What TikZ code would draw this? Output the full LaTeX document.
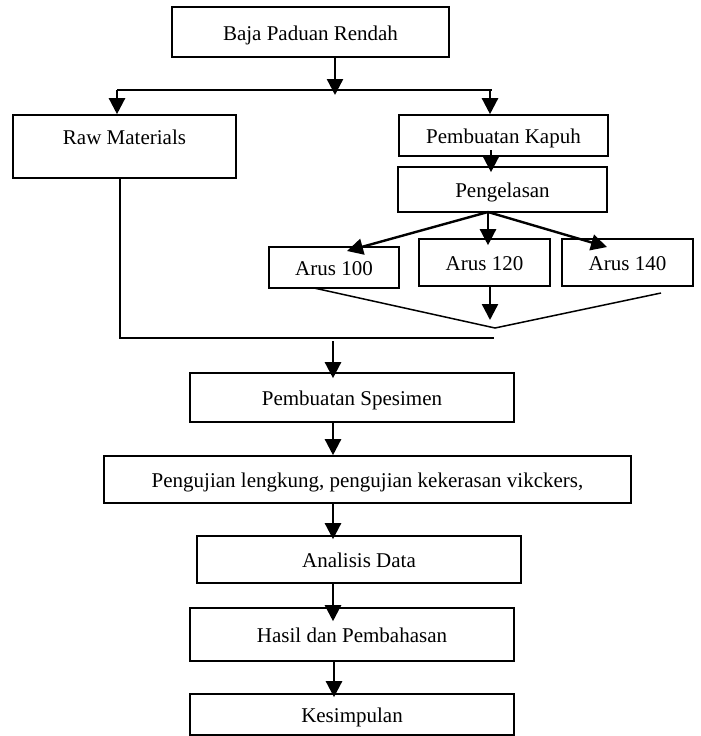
\documentclass[tikz,border=0pt]{standalone}
\usepackage{fontspec}
\setmainfont{Liberation Serif}
\usetikzlibrary{arrows.meta}
\begin{document}
\begin{tikzpicture}[x=1pt,y=-1pt,
  box/.style={draw, line width=1.6pt, rectangle, inner sep=0pt,
    font=\fontsize{21}{25}\selectfont, text height=18pt, text depth=2pt},
  arr/.style={line width=2.4pt, -{Triangle[width=16pt,length=16pt]}},
  thin/.style={line width=1.5pt}]
\useasboundingbox (0,0) rectangle (701,736);
% boxes
\node[box, minimum width=277pt, minimum height=50pt] (baja) at (310.5,32) {Baja Paduan Rendah};
\node[box, minimum width=223pt, minimum height=63pt,
  label={[font=\fontsize{21}{25}\selectfont, anchor=north, yshift=-12pt]north:Raw Materials}] (raw) at (124.5,146.5) {};
\node[box, minimum width=209pt, minimum height=41pt] (kapuh) at (503.5,135.5) {Pembuatan Kapuh};
\node[box, minimum width=209pt, minimum height=45pt] (peng) at (502.5,189.5) {Pengelasan};
\node[box, minimum width=130pt, minimum height=41pt] (a100) at (334,267.5) {Arus 100};
\node[box, minimum width=131pt, minimum height=47pt] (a120) at (484.5,262.5) {Arus 120};
\node[box, minimum width=131pt, minimum height=47pt] (a140) at (627.5,262.5) {Arus 140};
\node[box, minimum width=324pt, minimum height=49pt] (spes) at (352,397.5) {Pembuatan Spesimen};
\node[box, minimum width=527pt, minimum height=47pt] (uji) at (367.5,479.5) {Pengujian lengkung, pengujian kekerasan vikckers,};
\node[box, minimum width=324pt, minimum height=47pt] (anal) at (359,559.5) {Analisis Data};
\node[box, minimum width=324pt, minimum height=53pt] (hasil) at (352,634.5) {Hasil dan Pembahasan};
\node[box, minimum width=324pt, minimum height=41pt] (kes) at (352,714.5) {Kesimpulan};
% coordinates
\coordinate (bt) at (335,95);
\coordinate (hl) at (117,90);
\coordinate (hr) at (492,90);
\coordinate (hk) at (490,90);
\coordinate (kx) at (491,150);
\coordinate (ps) at (488,212);
\coordinate (t100) at (347,251);
\coordinate (t140) at (607,247);
\coordinate (v1) at (314,288);
\coordinate (va) at (495,328);
\coordinate (v3) at (661,293);
\coordinate (mt) at (490,320);
\coordinate (rx) at (120,338);
\coordinate (re) at (494,338);
\coordinate (sx) at (333,341);
\coordinate (hx) at (334,661);
% connectors
\draw[arr] (baja.south -| bt) -- (bt);
\draw[thin] (hl) -- (hr);
\draw[arr] (hl) -- (raw.north -| hl);
\draw[arr] (hk) -- (kapuh.north -| hk);
\draw[arr, shorten >=-6pt] (kx) -- (peng.north -| kx);
\draw[arr] (ps) -- (t100);
\draw[arr, shorten >=-7pt] (ps) -- (a120.north -| ps);
\draw[arr] (ps) -- (t140);
\draw[thin] (v1) -- (va) -- (v3);
\draw[arr] (a120.south -| mt) -- (mt);
\draw[thin] (raw.south -| rx) -- (rx) -- (re);
\draw[arr, shorten >=-6pt] (sx) -- (spes.north -| sx);
\draw[arr] (spes.south -| sx) -- (uji.north -| sx);
\draw[arr, shorten >=-4pt] (uji.south -| sx) -- (anal.north -| sx);
\draw[arr, shorten >=-14pt] (anal.south -| sx) -- (hasil.north -| sx);
\draw[arr, shorten >=-4pt] (hasil.south -| hx) -- (kes.north -| hx);
\end{tikzpicture}
\end{document}
